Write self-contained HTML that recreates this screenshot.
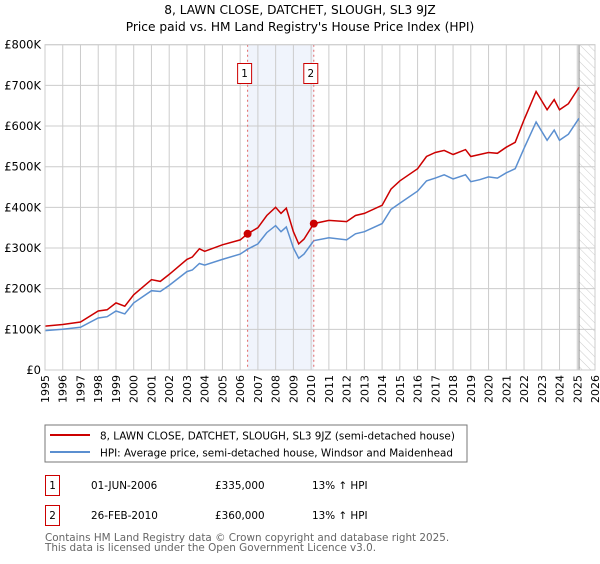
<!DOCTYPE html>
<html><head><meta charset="utf-8"><style>
body{margin:0;background:#fff;font-family:"DejaVu Sans","Liberation Sans",sans-serif;}
svg text{font-family:"DejaVu Sans","Liberation Sans",sans-serif;}
</style></head><body>
<svg id="c" width="600" height="560" xmlns="http://www.w3.org/2000/svg">
<defs><pattern id="hatch" width="6" height="6" patternUnits="userSpaceOnUse" patternTransform="rotate(-45)"><line x1="0" y1="0" x2="0" y2="6" stroke="#ccc" stroke-width="1"/></pattern></defs>
<text x="300" y="14" text-anchor="middle" font-size="12.2" fill="#000">8, LAWN CLOSE, DATCHET, SLOUGH, SL3 9JZ</text>
<text x="300" y="31" text-anchor="middle" font-size="12.2" fill="#000">Price paid vs. HM Land Registry's House Price Index (HPI)</text>
<g id="grid"></g><g id="marks"></g><g id="axes"></g>
<rect x="45" y="425" width="422" height="37" fill="#fff" stroke="#777"/>
<line x1="50" y1="435" x2="90" y2="435" stroke="#cc0000" stroke-width="2"/>
<text x="100" y="439.5" font-size="10.4">8, LAWN CLOSE, DATCHET, SLOUGH, SL3 9JZ (semi-detached house)</text>
<line x1="50" y1="452" x2="90" y2="452" stroke="#5b8fd0" stroke-width="2"/>
<text x="100" y="456.5" font-size="10.4">HPI: Average price, semi-detached house, Windsor and Maidenhead</text>
<g>
<rect x="45.5" y="475.5" width="14" height="20" fill="none" stroke="#cc0000"/>
<text x="52.5" y="489" text-anchor="middle" font-size="10.4">1</text>
<text x="91" y="489" font-size="10.4">01-JUN-2006</text>
<text x="215" y="489" font-size="10.4">£335,000</text>
<text x="312" y="489" font-size="10.4">13% ↑ HPI</text></g>
<g>
<rect x="45.5" y="505.5" width="14" height="20" fill="none" stroke="#cc0000"/>
<text x="52.5" y="519" text-anchor="middle" font-size="10.4">2</text>
<text x="91" y="519" font-size="10.4">26-FEB-2010</text>
<text x="215" y="519" font-size="10.4">£360,000</text>
<text x="312" y="519" font-size="10.4">13% ↑ HPI</text></g>
<text x="45" y="541" font-size="10.4" fill="#666">Contains HM Land Registry data © Crown copyright and database right 2025.</text>
<text x="45" y="551" font-size="10.4" fill="#666">This data is licensed under the Open Government Licence v3.0.</text>
</svg>
<script>
const hpiYears=[1995,1996,1997,1998,1998.5,1999,1999.5,2000,2001,2001.5,2002,2003,2003.3,2003.7,2004,2005,2006,2006.42,2007,2007.5,2008,2008.3,2008.6,2009,2009.3,2009.6,2010.15,2011,2012,2012.5,2013,2014,2014.5,2015,2016,2016.5,2017,2017.5,2018,2018.7,2019,2019.5,2020,2020.5,2021,2021.5,2022,2022.68,2023.3,2023.7,2024,2024.5,2025.1];
const hpiValues=[97000,100000,105000,128000,131000,145000,138000,165000,195000,193000,208000,242000,246000,262000,258000,272000,285000,297000,310000,338000,355000,340000,352000,300000,275000,285000,318000,325000,320000,335000,340000,360000,395000,410000,440000,465000,472000,480000,470000,480000,463000,468000,475000,472000,485000,495000,545000,610000,565000,590000,565000,580000,619000];
const priceValues=[108000,112000,118000,145000,148000,165000,157000,185000,222000,218000,235000,272000,278000,298000,292000,308000,320000,335000,350000,380000,400000,385000,398000,340000,310000,322000,360000,368000,365000,380000,385000,405000,445000,465000,495000,525000,535000,540000,530000,542000,525000,530000,535000,533000,548000,560000,615000,685000,640000,665000,640000,655000,695000];
const saleYears=[2006.42,2010.15];
const salePrices=[335000,360000];
const saleLabels=["1","2"];
const yTicks=[0,100000,200000,300000,400000,500000,600000,700000,800000];
const yTickLabels=["£0","£100K","£200K","£300K","£400K","£500K","£600K","£700K","£800K"];
const xTicks=[1995,1996,1997,1998,1999,2000,2001,2002,2003,2004,2005,2006,2007,2008,2009,2010,2011,2012,2013,2014,2015,2016,2017,2018,2019,2020,2021,2022,2023,2024,2025,2026];

const L=45,R=595,T=44.7,B=370;
const X=y=>L+(y-1995)/(2026-1995)*(R-L);
const Y=v=>B-v/800000*(B-T);
const NS="http://www.w3.org/2000/svg";
function mk(parent,tag,attrs){const e=document.createElementNS(NS,tag);for(const k in attrs)e.setAttribute(k,attrs[k]);parent.appendChild(e);return e;}
const grid=document.getElementById('grid'),marks=document.getElementById('marks'),axes=document.getElementById('axes');
const shade=mk(grid,'rect',{x:X(saleYears[0]),y:T,width:X(saleYears[1])-X(saleYears[0]),height:B-T,fill:'#f0f4fc'});


const hat=mk(grid,'rect',{x:X(2025.1),y:T,width:R-X(2025.1),height:B-T,fill:'url(#hatch)'});


xTicks.forEach(t=>{const l=mk(grid,'line',{x1:X(t),x2:X(t),y1:T,y2:B,stroke:'#ccc','stroke-width':1});


const tx=mk(axes,'text',{x:0,y:0,'font-size':11,transform:`translate(${X(t)+4},${B+5}) rotate(-90)`,'text-anchor':'end'});tx.textContent=t;

});
yTicks.forEach((t,i)=>{const l=mk(grid,'line',{x1:L,x2:R,y1:Y(t),y2:Y(t),stroke:'#ccc','stroke-width':1});


const tx=mk(axes,'text',{x:L-4,y:Y(t)+4,'font-size':11.5,'text-anchor':'end'});tx.textContent=yTickLabels[i];

});
const vl=mk(grid,'line',{x1:X(2025.1),x2:X(2025.1),y1:T,y2:B,stroke:'#888','stroke-width':1});


function path(vals){return vals.map((v,i)=>(i?'L':'M')+X(hpiYears[i]).toFixed(1)+','+Y(v).toFixed(1)).join('');}
const hp=mk(marks,'path',{d:path(hpiValues),fill:'none',stroke:'#5b8fd0','stroke-width':1.5});


const pp=mk(marks,'path',{d:path(priceValues),fill:'none',stroke:'#cc0000','stroke-width':1.5});


saleYears.forEach((y,i)=>{
const d=mk(marks,'line',{x1:X(y),x2:X(y),y1:T,y2:B,stroke:'#e06666','stroke-width':1,'stroke-dasharray':'2,3'});


const c=mk(marks,'circle',{cx:X(y),cy:Y(salePrices[i]),r:4,fill:'#cc0000'});


const b=mk(marks,'rect',{x:X(y)-10,y:63.5,width:14,height:20,fill:'#fff',stroke:'#cc0000'});


const t=mk(marks,'text',{x:X(y)-3,y:77,'font-size':10.4,'text-anchor':'middle'});t.textContent=saleLabels[i];

});
const fr=mk(axes,'rect',{x:L,y:T,width:R-L,height:B-T,fill:'none',stroke:'#ccc'});


</script>
</body></html>
